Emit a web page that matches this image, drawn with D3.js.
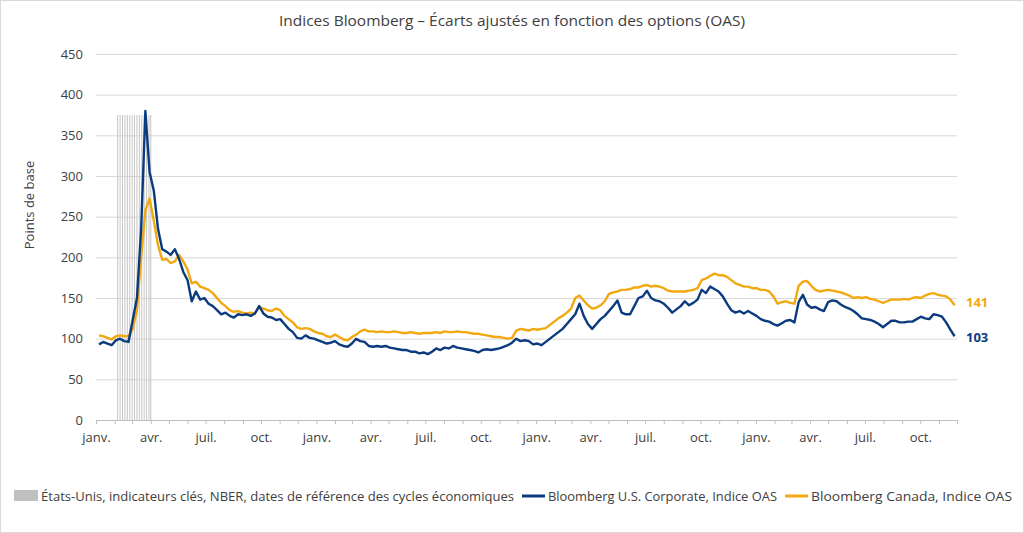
<!DOCTYPE html>
<html><head><meta charset="utf-8">
<script src="https://cdn.jsdelivr.net/npm/d3@7"></script>
<style>
body{margin:0;background:#fff;}
text{font-family:"Open Sans","Noto Sans",sans-serif;}
</style></head>
<body><svg id="c" width="1024" height="533"></svg>
<script>
const titleText = "Indices Bloomberg – Écarts ajustés en fonction des options (OAS)";
const yLabel = "Points de base";
const yTicks = [0,50,100,150,200,250,300,350,400,450];
const quarterLabels = {0:"janv.",3:"avr.",6:"juil.",9:"oct."};
const legendLabels = ["États-Unis, indicateurs clés, NBER, dates de référence des cycles économiques","Bloomberg U.S. Corporate, Indice OAS","Bloomberg Canada, Indice OAS"];
// NBER recession (column marks), height in bp
const recessionDates = ["2020-02-06","2020-02-10","2020-02-14","2020-02-18","2020-02-22","2020-02-26","2020-03-01","2020-03-05","2020-03-09","2020-03-13","2020-03-17","2020-03-21","2020-03-25","2020-03-29","2020-04-01"];
const recessionValue = 375;
// Weekly observations (Mondays, 2020-01-06 .. 2023-11-27)
const usOAS = [
 // 2020
 93,96,94,92,98,100,97,96,123,150,235,380,305,282,235,210,207,203,210,198,182,172,146,158,148,150,143,140,135,130,132,128,126,130,129,130,128,131,140,131,127,126,123,124,118,112,108,101,100,104,101,100,
 // 2021
 98,96,94,95,97,93,91,90,94,100,97,96,91,90,91,90,91,89,88,87,86,86,84,84,82,83,81,84,88,86,89,88,91,89,88,87,86,85,83,86,87,86,87,88,90,92,95,100,97,98,97,93,
 // 2022
 94,92,96,100,104,108,112,118,124,130,143,128,118,112,118,124,128,134,140,147,132,130,130,140,150,152,159,150,147,146,143,138,132,136,140,146,141,144,148,160,156,164,161,158,152,143,135,132,134,131,134,131,
 // 2023
 128,124,122,121,118,116,119,122,123,120,145,154,142,138,139,136,134,145,147,146,142,139,137,134,130,125,124,123,121,118,114,118,122,122,120,120,121,121,124,127,125,124,130,129,127,120,111,103
];
const canadaOAS = [
 // 2020
 104,103,101,99,103,104,103,103,112,135,200,258,272,245,215,197,198,193,195,203,195,185,168,170,164,162,160,156,150,144,140,135,133,134,132,131,132,131,139,137,135,134,137,135,128,124,120,114,112,113,112,109,
 // 2021
 107,106,103,102,105,102,99,98,102,105,109,111,109,109,108,109,108,108,109,108,107,107,108,107,106,107,107,107,108,107,109,108,108,109,108,108,107,106,106,105,104,103,102,102,101,100,101,110,112,111,110,112,
 // 2022
 111,112,113,117,121,125,128,132,137,150,153,147,141,137,138,141,146,155,157,158,160,160,161,163,163,165,166,164,165,164,162,159,158,158,158,158,159,160,162,172,174,177,180,178,178,176,172,168,166,164,164,162,
 // 2023
 162,160,160,158,152,143,145,146,144,143,165,170,171,165,160,158,159,160,159,158,157,155,153,150,151,150,151,149,148,146,144,146,148,148,148,149,148,150,151,150,153,155,156,154,153,152,148,141
];
const colUS = "#0B3B7E", colCA = "#F2A80F", colRec = "#C6C6C6";

const svg = d3.select("#c");
svg.append("rect").attr("x",0.5).attr("y",0.5).attr("width",1023).attr("height",532)
  .attr("fill","#fff").attr("stroke","#D9D9D9");

const x = d3.scaleTime().domain([new Date(2020,0,1), new Date(2023,11,1)]).range([96,957]);
const y = d3.scaleLinear().domain([0,450]).range([420,54]);
const dates = d3.timeMonday.range(new Date(2020,0,6), new Date(2023,11,1));
const n = Math.min(dates.length, usOAS.length, canadaOAS.length);
const us = d3.range(n).map(i=>({date:dates[i], v:usOAS[i]}));
const ca = d3.range(n).map(i=>({date:dates[i], v:canadaOAS[i]}));

// gridlines
const grid = svg.append("g").attr("transform","translate(96,0)")
  .call(d3.axisLeft(y).tickValues(yTicks.filter(t=>t>0)).tickSize(-(957-96)).tickFormat(""));
grid.select(".domain").remove();
grid.selectAll("line").attr("stroke","#D9D9D9");

// y tick labels
const ya = svg.append("g").attr("transform","translate(96,0)")
  .call(d3.axisLeft(y).tickValues(yTicks).tickSize(0).tickPadding(13));
ya.select(".domain").remove();
ya.selectAll("text").attr("font-size",13).attr("fill","#404040").attr("font-family","Open Sans, sans-serif");

// recession marks
svg.append("g").selectAll("rect").data(recessionDates).join("rect")
  .attr("x", d=>x(d3.isoParse(d))-0.5).attr("width",1)
  .attr("y", y(recessionValue)).attr("height", y(0)-y(recessionValue))
  .attr("fill", colRec);

// x axis
const xa = svg.append("g").attr("transform","translate(0,420)")
  .call(d3.axisBottom(x).ticks(d3.timeMonth.every(1)).tickSize(4).tickPadding(9)
    .tickFormat(d=>quarterLabels[d.getMonth()] || ""));
xa.select(".domain").attr("stroke","#BFBFBF");
xa.selectAll("line").attr("stroke","#BFBFBF");
xa.selectAll("text").attr("font-size",13).attr("fill","#404040").attr("font-family","Open Sans, sans-serif");

// lines
const line = d3.line().x(d=>x(d.date)).y(d=>y(d.v));
svg.append("path").datum(ca).attr("d",line).attr("fill","none").attr("stroke",colCA).attr("stroke-width",2.4).attr("stroke-linejoin","round");
svg.append("path").datum(us).attr("d",line).attr("fill","none").attr("stroke",colUS).attr("stroke-width",2.4).attr("stroke-linejoin","round");

// end labels
const lastCA = ca[n-1], lastUS = us[n-1];
svg.append("text").attr("x",966).attr("y",y(lastCA.v)-3).attr("dy","0.35em").text(lastCA.v)
  .attr("font-size",13).attr("font-weight","bold").attr("fill",colCA);
svg.append("text").attr("x",966).attr("y",y(lastUS.v)+1).attr("dy","0.35em").text(lastUS.v)
  .attr("font-size",13).attr("font-weight","bold").attr("fill",colUS);

// title
svg.append("text").attr("x",512).attr("y",26).attr("text-anchor","middle")
  .attr("font-size",15).attr("fill","#404040").attr("textLength",466).attr("lengthAdjust","spacingAndGlyphs")
  .text(titleText);

// y label
svg.append("text").attr("transform","translate(34,205) rotate(-90)").attr("text-anchor","middle")
  .attr("font-size",13).attr("fill","#404040").text(yLabel);

// legend
const lg = svg.append("g").attr("font-size",13).attr("fill","#404040");
lg.append("rect").attr("x",14).attr("y",490).attr("width",24).attr("height",11).attr("fill","#BFBFBF");
lg.append("text").attr("x",41).attr("y",501).attr("textLength",473).attr("lengthAdjust","spacingAndGlyphs").text(legendLabels[0]);
lg.append("line").attr("x1",522).attr("x2",545).attr("y1",496).attr("y2",496).attr("stroke",colUS).attr("stroke-width",3);
lg.append("text").attr("x",548).attr("y",501).attr("textLength",229).attr("lengthAdjust","spacingAndGlyphs").text(legendLabels[1]);
lg.append("line").attr("x1",785).attr("x2",808).attr("y1",496).attr("y2",496).attr("stroke",colCA).attr("stroke-width",3);
lg.append("text").attr("x",811).attr("y",501).attr("textLength",201).attr("lengthAdjust","spacingAndGlyphs").text(legendLabels[2]);
</script></body></html>
